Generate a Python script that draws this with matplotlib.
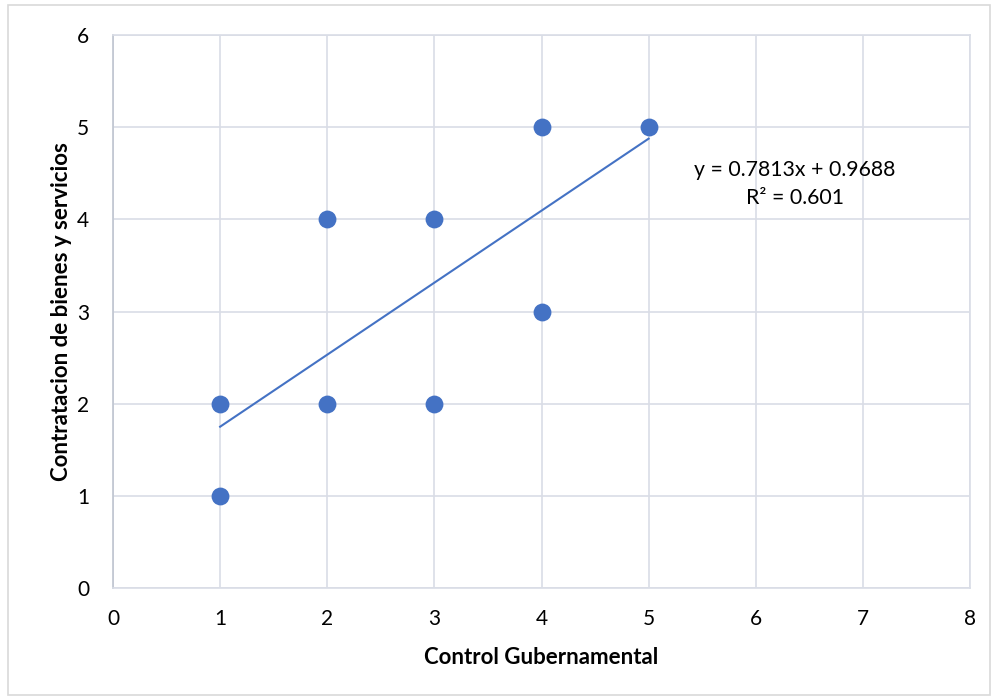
import matplotlib
matplotlib.use("Agg")
import matplotlib.pyplot as plt
from matplotlib.patches import Rectangle

# ── Data ─────────────────────────────────────────────────────────────────────
control = [1, 1, 2, 2, 3, 3, 4, 4, 5]
contratacion = [2, 1, 4, 2, 4, 2, 5, 3, 5]
slope = 0.7813
intercept = 0.9688
r2 = 0.601
trend_x = [1, 5]

plt.rcParams["font.family"] = ["Lato", "DejaVu Sans"]

fig = plt.figure(figsize=(9.94, 6.98), dpi=100)
fig.patches.append(Rectangle((8 / 994, 3 / 698), 982 / 994, 690 / 698, transform=fig.transFigure,
                             fill=False, edgecolor="#D9D9D9", linewidth=1.2))
ax = fig.add_axes([113 / 994, 110 / 698, 857 / 994, 553 / 698])

grid_c = "#D9DDE6"
ax.set_xlim(0, 8)
ax.set_ylim(0, 6)
ax.set_xticks(range(0, 9))
ax.set_yticks(range(0, 7))
ax.grid(True, color=grid_c, linewidth=1.2)
ax.set_axisbelow(True)
for s in ["top", "right", "bottom"]:
    ax.spines[s].set_color(grid_c)
    ax.spines[s].set_linewidth(1.2)
ax.spines["left"].set_color("#BFC5D0")
ax.spines["left"].set_linewidth(1.2)
ax.tick_params(length=0, labelsize=15, colors="black")
ax.tick_params(axis="x", pad=15)
ax.tick_params(axis="y", pad=17)

ax.scatter(control, contratacion, s=165, color="#4472C4", zorder=3, linewidths=0)
ty = [slope * x + intercept for x in trend_x]
ax.plot(trend_x, ty, color="#4472C4", linewidth=1.5, zorder=2)

# equation label, placed in figure fraction
fig.text(795 / 994, 1 - 184 / 698, f"y = {slope}x + {intercept}\nR² = {r2}",
         fontsize=15.3, ha="center", va="center", linespacing=1.45)

ax.set_xlabel("Control Gubernamental", fontsize=16, fontweight="bold", labelpad=13)
ax.set_ylabel("Contratacion de bienes y servicios", fontsize=16, fontweight="bold", labelpad=4)

fig.savefig("out.png", dpi=100)
